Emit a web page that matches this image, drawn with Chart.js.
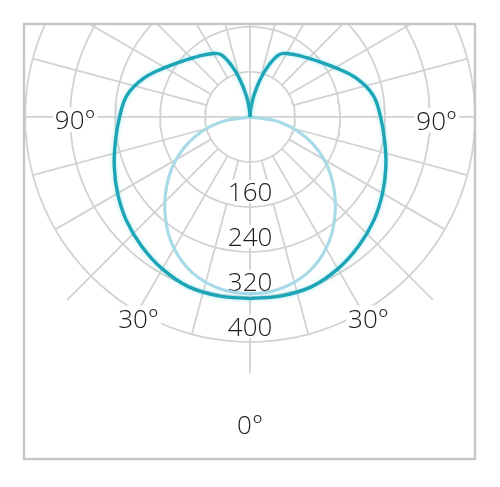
<!DOCTYPE html>
<html lang="es">
<head>
    <meta charset="UTF-8">
    <title>Curva fotométrica</title>
    <script src="https://cdn.jsdelivr.net/npm/chart.js"></script>
    <style>
        html, body {
            margin: 0;
            padding: 0;
            background-color: #ffffff;
        }
        #wrap {
            width: 500px;
            height: 487px;
            position: relative;
        }
    </style>
</head>
<body>
    <div id="wrap"><canvas id="polarChart"></canvas></div>

    <script>
        // Angles measured from nadir (0° = straight down), one half of each curve; mirrored left/right
        const darkAngles = [0, 10, 20, 30, 40, 50, 60, 70, 80, 90, 100, 110, 120, 130, 140, 150, 155, 160, 165, 170, 175, 180];
        const darkValues = [323, 323, 321, 312, 300, 287, 272, 257, 243, 232, 222, 201, 175, 155, 141, 130, 122, 98, 68, 38, 14, 0];

        const lightAngles = [0, 10, 20, 30, 40, 50, 60, 70, 80, 90];
        const lightValues = [314, 310, 296, 270, 234, 194, 152, 105, 54, 0];

        // polar grid
        const ringValues = [80, 160, 240, 320, 400];
        const radialTicks = [160, 240, 320, 400];
        const spokeStep = 15;

        // angle labels
        const angleLabels = ['90°', '30°', '0°', '30°', '90°'];
        const angleLabelDeg = [-89, -29, 0, 30.5, 89];

        const DEG = Math.PI / 180;

        function toXY(deg, v) {
            return { x: v * Math.sin(deg * DEG), y: -v * Math.cos(deg * DEG) };
        }

        // Build the datasets from the arrays above
        const darkLeft = darkAngles.map((a, i) => toXY(-a, darkValues[i]));
        const darkRight = darkAngles.map((a, i) => toXY(a, darkValues[i]));

        const lightPts = [];
        for (let i = lightAngles.length - 1; i > 0; i--) lightPts.push(toXY(-lightAngles[i], lightValues[i]));
        for (let i = 0; i < lightAngles.length; i++) lightPts.push(toXY(lightAngles[i], lightValues[i]));

        const gridStyle = {
            borderColor: '#d2d2d2',
            borderWidth: 1.8,
            pointRadius: 0,
            showLine: true,
            tension: 0,
            clip: 0
        };

        const gridSets = [];
        ringValues.forEach(v => {
            const pts = [];
            for (let d = 0; d <= 360; d += 3) pts.push(toXY(d, v));
            gridSets.push(Object.assign({ data: pts }, gridStyle));
        });
        for (let d = 0; d < 360; d += spokeStep) {
            let inner = (d % 90 === 0) ? 0 : ringValues[0];
            let outer = ringValues[ringValues.length - 1];
            if (d === 0) outer = 455;
            if (d === 45 || d === 315) outer = 460;
            if (d === 90 || d === 180 || d === 270) outer = 900;
            gridSets.push(Object.assign({ data: [toXY(d, inner), toXY(d, outer)] }, gridStyle));
        }

        const darkStyle = {
            borderColor: '#1ba5b6',
            borderWidth: 3.4,
            pointRadius: 0,
            showLine: true,
            tension: 0.4,
            clip: 0
        };

        // text labels (drawn between grid and curves), glow on the dark curve, outer frame
        const labelPlugin = {
            id: 'polarLabels',
            beforeDatasetDraw(chart, args) {
                const ctx = chart.ctx;
                if (args.index < 2) {
                    ctx.save();
                    ctx.shadowColor = 'rgba(110, 215, 230, 0.55)';
                    ctx.shadowBlur = 4;
                    return;
                }
                if (args.index !== 2) return;
                const xs = chart.scales.x, ys = chart.scales.y;
                ctx.save();
                ctx.font = '300 26px "Open Sans", Lato, sans-serif';
                ctx.textAlign = 'center';
                ctx.textBaseline = 'alphabetic';

                radialTicks.forEach(v => {
                    const txt = String(v);
                    const px = xs.getPixelForValue(0);
                    const py = ys.getPixelForValue(-v) - 6;
                    const w = ctx.measureText(txt).width;
                    ctx.fillStyle = '#ffffff';
                    ctx.fillRect(px - w / 2 - 2, py - 21, w + 4, 23);
                    ctx.fillStyle = '#1c1c1c';
                    ctx.fillText(txt, px, py);
                });

                const radii = [311, 409, 546, 415, 332];
                angleLabels.forEach((txt, i) => {
                    const p = toXY(angleLabelDeg[i], radii[i]);
                    const px = xs.getPixelForValue(p.x);
                    const py = ys.getPixelForValue(p.y) + 9.5;
                    const w = ctx.measureText(txt).width;
                    ctx.fillStyle = '#ffffff';
                    ctx.fillRect(px - w / 2 - 2, py - 22, w + 4, 25);
                    ctx.fillStyle = '#1c1c1c';
                    ctx.fillText(txt, px, py);
                });
                ctx.restore();
            },
            afterDatasetDraw(chart, args) {
                if (args.index < 2) chart.ctx.restore();
            },
            afterDraw(chart) {
                const a = chart.chartArea;
                const ctx = chart.ctx;
                ctx.save();
                ctx.strokeStyle = '#c6c6c6';
                ctx.lineWidth = 2.4;
                ctx.strokeRect(a.left, a.top, a.right - a.left, a.bottom - a.top);
                ctx.restore();
            }
        };

        const ctx = document.getElementById('polarChart').getContext('2d');
        new Chart(ctx, {
            type: 'scatter',
            data: {
                datasets: [
                    Object.assign({ label: 'C0-C180 izq', data: darkLeft }, darkStyle),
                    Object.assign({ label: 'C0-C180 der', data: darkRight }, darkStyle),
                    {
                        label: 'C90-C270',
                        data: lightPts,
                        borderColor: '#a8dbe7',
                        borderWidth: 3.2,
                        pointRadius: 0,
                        showLine: true,
                        tension: 0.4,
                        clip: 0
                    }
                ].concat(gridSets)
            },
            options: {
                responsive: true,
                maintainAspectRatio: false,
                animation: false,
                events: [],
                layout: { padding: { left: 24, right: 25, top: 24, bottom: 28 } },
                plugins: {
                    legend: { display: false },
                    tooltip: { enabled: false }
                },
                scales: {
                    x: { type: 'linear', min: -402, max: 400, display: false },
                    y: { type: 'linear', min: -608, max: 165, display: false }
                }
            },
            plugins: [labelPlugin]
        });
    </script>
</body>
</html>
